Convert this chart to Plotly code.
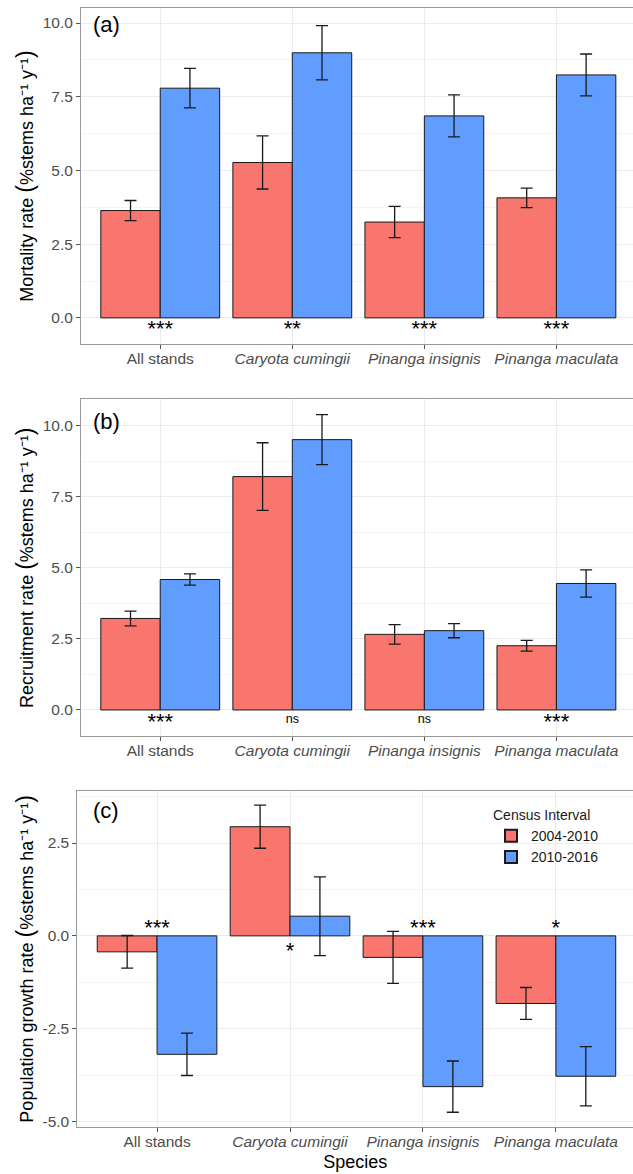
import plotly.graph_objects as go

# ---------------- data ----------------
categories = ["All stands", "Caryota cumingii", "Pinanga insignis", "Pinanga maculata"]
category_labels = ["All stands", "<i>Caryota cumingii</i>", "<i>Pinanga insignis</i>", "<i>Pinanga maculata</i>"]
intervals = ["2004-2010", "2010-2016"]

mortality_2004 = [3.64, 5.27, 3.25, 4.07]
mortality_2004_se = [0.34, 0.90, 0.53, 0.33]
mortality_2010 = [7.79, 8.99, 6.85, 8.24]
mortality_2010_se = [0.67, 0.92, 0.71, 0.71]
mortality_sig = ["***", "**", "***", "***"]

recruit_2004 = [3.22, 8.21, 2.66, 2.26]
recruit_2004_se = [0.26, 1.19, 0.34, 0.19]
recruit_2010 = [4.59, 9.51, 2.79, 4.45]
recruit_2010_se = [0.20, 0.88, 0.25, 0.48]
recruit_sig = ["***", "ns", "ns", "***"]

growth_2004 = [-0.43, 2.94, -0.58, -1.82]
growth_2004_se = [0.44, 0.58, 0.70, 0.43]
growth_2010 = [-3.19, 0.53, -4.06, -3.78]
growth_2010_se = [0.57, 1.06, 0.69, 0.80]
growth_sig = ["***", "*", "***", "*"]
growth_sig_above = [True, False, True, True]

yticks_ab = [0, 2.5, 5, 7.5, 10]
yticks_ab_text = ["0.0", "2.5", "5.0", "7.5", "10.0"]
yticks_c = [-5, -2.5, 0, 2.5]
yticks_c_text = ["-5.0", "-2.5", "0.0", "2.5"]

# ---------------- style ----------------
W, H = 633, 1174
RED = "#F8766D"
BLUE = "#619CFF"
FONT = "Liberation Sans, Arial, sans-serif"
TICK_GREY = "#4D4D4D"
GRID = "#EBEBEB"
MINOR = "#F4F4F4"
BORDER = "#9A9A9A"


def px_x(p):
    return p / W


def px_y(p):
    return 1 - p / H


fig = go.Figure()

panels = [
    dict(n="", vals=(mortality_2004, mortality_2010), se=(mortality_2004_se, mortality_2010_se),
         top=8, bottom=345, left=81, yrange=[-0.89, 10.51], tv=yticks_ab, tt=yticks_ab_text,
         minor0=1.25, title="Mortality rate"),
    dict(n="2", vals=(recruit_2004, recruit_2010), se=(recruit_2004_se, recruit_2010_se),
         top=400, bottom=738.3, left=81, yrange=[-0.93, 10.94], tv=yticks_ab, tt=yticks_ab_text,
         minor0=1.25, title="Recruitment rate"),
    dict(n="3", vals=(growth_2004, growth_2010), se=(growth_2004_se, growth_2010_se),
         top=792.7, bottom=1130, left=77.3, yrange=[-5.15, 3.91], tv=yticks_c, tt=yticks_c_text,
         minor0=1.25, title="Population growth rate"),
]

for i, p in enumerate(panels):
    xa = "x" + p["n"]
    ya = "y" + p["n"]
    for j, (col, name) in enumerate(zip([RED, BLUE], intervals)):
        fig.add_trace(go.Bar(
            x=categories, y=p["vals"][j], name=name,
            xaxis=xa, yaxis=ya,
            marker=dict(color=col, line=dict(color="#1A1A1A", width=1)),
            error_y=dict(type="data", array=p["se"][j], color="#1A1A1A", thickness=1.3, width=6),
            showlegend=(i == 2), legendgroup=name,
            offsetgroup=str(j),
        ))
    ytitle = (p["title"] + " <span style='font-size:23px'>(</span>%stems ha\u207B\u00B9 "
              "y\u207B\u00B9<span style='font-size:23px'>)</span>")
    xkey = "xaxis" + p["n"]
    ykey = "yaxis" + p["n"]
    fig.layout[xkey] = dict(
        domain=[px_x(p["left"]), 1], anchor=ya, type="category",
        categoryorder="array", categoryarray=categories,
        range=[-0.6, 3.58],
        tickmode="array", tickvals=categories, ticktext=category_labels,
        tickfont=dict(family=FONT, size=15.5, color=TICK_GREY),
        ticks="outside", ticklen=4, tickcolor="#555555", tickwidth=1,
        ticklabelstandoff=-4,
        showline=True, mirror=True, linecolor=BORDER, linewidth=1,
        showgrid=True, gridcolor=GRID, gridwidth=1, zeroline=False,
    )
    fig.layout[ykey] = dict(
        domain=[px_y(p["bottom"]), px_y(p["top"])], anchor=xa,
        range=p["yrange"],
        tickmode="array", tickvals=p["tv"], ticktext=p["tt"],
        tickfont=dict(family=FONT, size=15.5, color=TICK_GREY),
        ticks="outside", ticklen=4, tickcolor="#555555", tickwidth=1,
        showline=True, mirror=False, linecolor=BORDER, linewidth=1,
        showgrid=True, gridcolor=GRID, gridwidth=1, zeroline=False,
        minor=dict(tick0=p["minor0"], dtick=2.5, showgrid=True, gridcolor=MINOR, gridwidth=1, ticks=""),
        title=dict(text=ytitle, font=dict(family=FONT, size=18, color="#000000"), standoff=4),
    )

fig.layout.xaxis3.title = dict(text="Species", font=dict(family=FONT, size=18, color="#000000"), standoff=6)


# significance labels as text traces (offset from zero given in pixels, converted to data units)
def px_to_data(panel, px):
    span = panel["yrange"][1] - panel["yrange"][0]
    return px * span / (panel["bottom"] - panel["top"])


def sig_trace(panel, labels, offsets_px, sizes):
    return go.Scatter(
        x=categories, y=[px_to_data(panel, o) for o in offsets_px],
        text=labels, mode="text", textposition="middle center",
        textfont=dict(family=FONT, size=sizes, color="#000000"),
        xaxis="x" + panel["n"], yaxis="y" + panel["n"],
        showlegend=False, hoverinfo="skip", cliponaxis=False,
    )


fig.add_trace(sig_trace(panels[0], mortality_sig, [-13] * 4, [22] * 4))
fig.add_trace(sig_trace(panels[1], recruit_sig,
                        [-10 if s == "ns" else -14 for s in recruit_sig],
                        [12.5 if s == "ns" else 22 for s in recruit_sig]))
fig.add_trace(sig_trace(panels[2], growth_sig,
                        [6 if a else -17 for a in growth_sig_above], [22] * 4))

annotations = []
for lab, yc in [("(a)", 25), ("(b)", 423), ("(c)", 813)]:
    annotations.append(dict(x=px_x(91), y=px_y(yc), xref="paper", yref="paper", text=lab,
                            showarrow=False, xanchor="left", yanchor="middle",
                            font=dict(family=FONT, size=22, color="#000000")))

fig.update_layout(
    width=W, height=H,
    margin=dict(l=0, r=0, t=0, b=0),
    paper_bgcolor="white", plot_bgcolor="white",
    barmode="group", bargap=0.1, bargroupgap=0,
    font=dict(family=FONT, color="#000000"),
    annotations=annotations,
    legend=dict(
        title=dict(text="Census Interval", font=dict(family=FONT, size=14, color="#1A1A1A")),
        font=dict(family=FONT, size=14, color="#1A1A1A"),
        x=px_x(491), y=px_y(804), xanchor="left", yanchor="top",
        bgcolor="rgba(255,255,255,0)", traceorder="normal",
        itemsizing="constant",
    ),
)

fig.write_html("out.html")
